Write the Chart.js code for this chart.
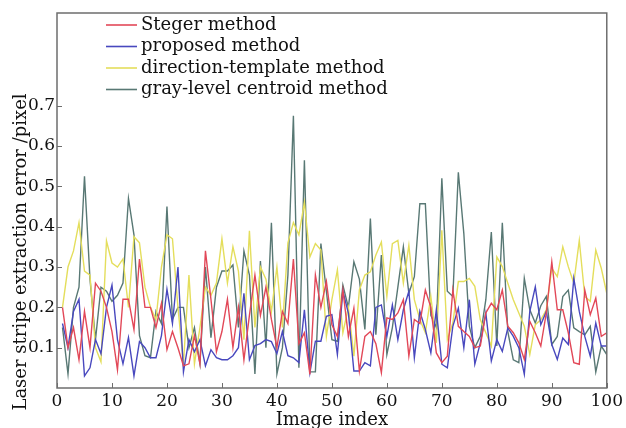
<!DOCTYPE html>
<html>
<head>
<meta charset="utf-8">
<script src="https://cdn.jsdelivr.net/npm/chart.js@4"></script>
<style>
    html, body { margin: 0; padding: 0; background: #fff; }
    #chart { display: block; }
</style>
</head>
<body>
<canvas id="chart" width="626" height="428"></canvas>
<script>
    const imageIndex = [
        1, 2, 3, 4, 5, 6, 7, 8, 9, 10, 11, 12, 13, 14, 15, 16, 17, 18, 19, 20,
        21, 22, 23, 24, 25, 26, 27, 28, 29, 30, 31, 32, 33, 34, 35, 36, 37, 38, 39, 40,
        41, 42, 43, 44, 45, 46, 47, 48, 49, 50, 51, 52, 53, 54, 55, 56, 57, 58, 59, 60,
        61, 62, 63, 64, 65, 66, 67, 68, 69, 70, 71, 72, 73, 74, 75, 76, 77, 78, 79, 80,
        81, 82, 83, 84, 85, 86, 87, 88, 89, 90, 91, 92, 93, 94, 95, 96, 97, 98, 99, 100
    ];

    const stegerErr = [
        0.20, 0.10, 0.15, 0.07, 0.19, 0.10, 0.26, 0.24, 0.20, 0.14,
        0.045, 0.22, 0.22, 0.145, 0.32, 0.20, 0.20, 0.15, 0.21, 0.095,
        0.14, 0.10, 0.055, 0.06, 0.13, 0.06, 0.34, 0.22, 0.09, 0.14,
        0.22, 0.10, 0.20, 0.07, 0.18, 0.28, 0.18, 0.25, 0.17, 0.10,
        0.19, 0.16, 0.32, 0.11, 0.137, 0.034, 0.28, 0.20, 0.264, 0.157,
        0.128, 0.243, 0.128, 0.198, 0.042, 0.128, 0.14, 0.11, 0.038, 0.174,
        0.17, 0.186, 0.219, 0.079, 0.17, 0.16, 0.243, 0.20, 0.087, 0.063,
        0.079, 0.243, 0.153, 0.14, 0.128, 0.10, 0.104, 0.186, 0.21, 0.194,
        0.243, 0.153, 0.137, 0.112, 0.071, 0.165, 0.137, 0.104, 0.186, 0.313,
        0.194, 0.194, 0.137, 0.063, 0.059, 0.243, 0.182, 0.223, 0.128, 0.137
    ];

    const proposedErr = [
        0.16, 0.10, 0.19, 0.22, 0.03, 0.05, 0.12, 0.085, 0.20, 0.255,
        0.12, 0.06, 0.125, 0.03, 0.115, 0.10, 0.075, 0.075, 0.13, 0.245,
        0.16, 0.30, 0.04, 0.12, 0.09, 0.12, 0.055, 0.095, 0.075, 0.07,
        0.07, 0.08, 0.10, 0.235, 0.07, 0.105, 0.11, 0.12, 0.115, 0.085,
        0.14, 0.08, 0.075, 0.063, 0.194, 0.038, 0.116, 0.116, 0.178, 0.182,
        0.083, 0.24, 0.186, 0.042, 0.042, 0.063, 0.055, 0.20, 0.206, 0.128,
        0.206, 0.12, 0.194, 0.24, 0.075, 0.19, 0.145, 0.087, 0.194, 0.059,
        0.05, 0.153, 0.198, 0.10, 0.219, 0.059, 0.112, 0.186, 0.067, 0.12,
        0.091, 0.149, 0.128, 0.10, 0.034, 0.19, 0.251, 0.157, 0.19, 0.108,
        0.071, 0.124, 0.108, 0.272, 0.19, 0.128, 0.079, 0.161, 0.104, 0.104
    ];

    const templateErr = [
        0.20, 0.30, 0.34, 0.41, 0.29, 0.28, 0.10, 0.065, 0.365, 0.31,
        0.30, 0.32, 0.20, 0.375, 0.36, 0.25, 0.20, 0.17, 0.30, 0.38,
        0.37, 0.20, 0.06, 0.28, 0.06, 0.15, 0.25, 0.23, 0.26, 0.37,
        0.26, 0.35, 0.29, 0.12, 0.39, 0.15, 0.30, 0.27, 0.19, 0.30,
        0.15, 0.36, 0.41, 0.38, 0.46, 0.325, 0.358, 0.342, 0.128, 0.219,
        0.293, 0.137, 0.20, 0.079, 0.243, 0.28, 0.288, 0.33, 0.362, 0.227,
        0.358, 0.366, 0.26, 0.354, 0.219, 0.17, 0.137, 0.227, 0.112, 0.391,
        0.12, 0.161, 0.264, 0.264, 0.272, 0.252, 0.169, 0.137, 0.104, 0.325,
        0.301, 0.26, 0.219, 0.186, 0.153, 0.083, 0.157, 0.169, 0.194, 0.297,
        0.276, 0.35, 0.301, 0.26, 0.366, 0.227, 0.215, 0.342, 0.297, 0.235
    ];

    const centroidErr = [
        0.15, 0.035, 0.20, 0.25, 0.525, 0.27, 0.12, 0.25, 0.24, 0.215,
        0.23, 0.26, 0.47, 0.38, 0.13, 0.08, 0.075, 0.19, 0.16, 0.45,
        0.17, 0.20, 0.20, 0.10, 0.15, 0.06, 0.30, 0.125, 0.25, 0.29,
        0.29, 0.305, 0.15, 0.34, 0.28, 0.035, 0.315, 0.10, 0.41, 0.035,
        0.10, 0.28, 0.675, 0.05, 0.565, 0.04, 0.04, 0.358, 0.24, 0.12,
        0.116, 0.255, 0.20, 0.313, 0.27, 0.145, 0.42, 0.132, 0.33, 0.083,
        0.15, 0.25, 0.35, 0.235, 0.276, 0.457, 0.457, 0.18, 0.15, 0.52,
        0.24, 0.227, 0.535, 0.383, 0.153, 0.10, 0.128, 0.219, 0.387, 0.104,
        0.41, 0.14, 0.07, 0.063, 0.272, 0.194, 0.161, 0.204, 0.227, 0.108,
        0.128, 0.227, 0.243, 0.149, 0.14, 0.132, 0.153, 0.04, 0.104, 0.083
    ];

    const seriesNames = ['Steger method', 'proposed method', 'direction-template method', 'gray-level centroid method'];
    const seriesColors = ['rgb(226, 72, 88)', 'rgb(72, 72, 190)', 'rgb(228, 222, 92)', 'rgb(88, 120, 116)'];
    const seriesValues = [stegerErr, proposedErr, templateErr, centroidErr];

    const xTickValues = [0, 10, 20, 30, 40, 50, 60, 70, 80, 90, 100];
    const yTickValues = [0.1, 0.2, 0.3, 0.4, 0.5, 0.6, 0.7];
    const xTitle = 'Image index';
    const yTitle = 'Laser stripe extraction error /pixel';

    const FONT = "'DejaVu Serif', 'Liberation Serif', serif";

    // box, inward ticks, axis titles and the in-plot legend
    const framePlugin = {
        id: 'frame',
        afterDraw(chart) {
            const ctx = chart.ctx;
            const area = chart.chartArea;
            const xs = chart.scales.x;
            const ys = chart.scales.y;
            ctx.save();
            ctx.strokeStyle = '#6e6e6e';
            ctx.lineWidth = 1.5;
            ctx.strokeRect(area.left, area.top, area.right - area.left, area.bottom - area.top);

            ctx.lineWidth = 1;
            ctx.beginPath();
            xTickValues.forEach(v => {
                const px = Math.round(xs.getPixelForValue(v)) + 0.5;
                ctx.moveTo(px, area.bottom);
                ctx.lineTo(px, area.bottom - 5);
            });
            yTickValues.forEach(v => {
                const py = Math.round(ys.getPixelForValue(v)) + 0.5;
                ctx.moveTo(area.left, py);
                ctx.lineTo(area.left + 5, py);
            });
            ctx.stroke();

            ctx.fillStyle = '#111';
            ctx.font = '18px ' + FONT;
            ctx.textAlign = 'center';
            ctx.textBaseline = 'alphabetic';
            ctx.fillText(xTitle, (area.left + area.right) / 2, area.bottom + 37);

            ctx.save();
            ctx.translate(26, area.bottom - 136);
            ctx.rotate(-Math.PI / 2);
            ctx.fillText(yTitle, 0, 0);
            ctx.restore();

            ctx.textAlign = 'left';
            ctx.textBaseline = 'middle';
            chart.data.datasets.forEach((ds, i) => {
                const y = area.top + 12 + i * 21.5;
                ctx.strokeStyle = ds.borderColor;
                ctx.lineWidth = 1.6;
                ctx.beginPath();
                ctx.moveTo(area.left + 49, y);
                ctx.lineTo(area.left + 80, y);
                ctx.stroke();
                ctx.fillText(ds.label, area.left + 84, y);
            });
            ctx.restore();
        }
    };

    const datasets = seriesNames.map((name, s) => ({
        label: name,
        data: imageIndex.map((x, i) => ({ x, y: seriesValues[s][i] })),
        borderColor: seriesColors[s],
        borderWidth: 1.4,
        pointRadius: 0,
        tension: 0,
        fill: false
    }));

    new Chart(document.getElementById('chart').getContext('2d'), {
        type: 'line',
        data: { datasets },
        options: {
            responsive: false,
            animation: false,
            devicePixelRatio: 1,
            layout: { padding: { top: 13, right: 13, left: 0, bottom: 0 } },
            plugins: {
                legend: { display: false },
                tooltip: { enabled: false }
            },
            scales: {
                x: {
                    type: 'linear',
                    min: 0,
                    max: 100,
                    grid: { display: false, drawTicks: false },
                    border: { display: false },
                    afterBuildTicks: scale => { scale.ticks = xTickValues.map(v => ({ value: v })); },
                    afterFit: scale => { scale.height = 40; },
                    ticks: {
                        padding: 3,
                        maxRotation: 0,
                        color: '#111',
                        font: { family: FONT, size: 17 }
                    }
                },
                y: {
                    min: 0,
                    max: 0.93,
                    grid: { display: false, drawTicks: false },
                    border: { display: false },
                    afterBuildTicks: scale => { scale.ticks = yTickValues.map(v => ({ value: v })); },
                    afterFit: scale => { scale.width = 57; },
                    ticks: {
                        padding: 2,
                        color: '#111',
                        font: { family: FONT, size: 17 },
                        callback: v => v.toFixed(1)
                    }
                }
            }
        },
        plugins: [framePlugin]
    });
</script>
</body>
</html>
